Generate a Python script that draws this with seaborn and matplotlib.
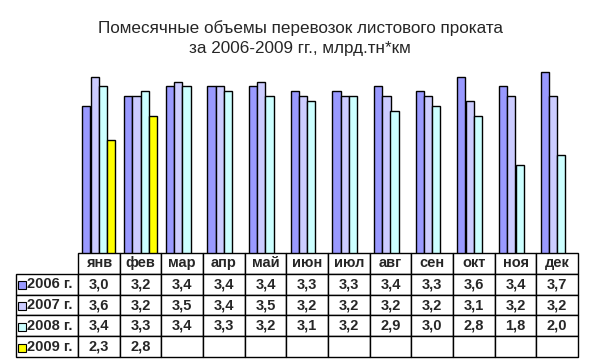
import pandas as pd
import numpy as np
import matplotlib.pyplot as plt
import seaborn as sns
from matplotlib.patches import Rectangle

months = ['янв', 'фев', 'мар', 'апр', 'май', 'июн', 'июл', 'авг', 'сен', 'окт', 'ноя', 'дек']
years = ['2006 г.', '2007 г.', '2008 г.', '2009 г.']
v2006 = [3.0, 3.2, 3.4, 3.4, 3.4, 3.3, 3.3, 3.4, 3.3, 3.6, 3.4, 3.7]
v2007 = [3.6, 3.2, 3.5, 3.4, 3.5, 3.2, 3.2, 3.2, 3.2, 3.1, 3.2, 3.2]
v2008 = [3.4, 3.3, 3.4, 3.3, 3.2, 3.1, 3.2, 2.9, 3.0, 2.8, 1.8, 2.0]
v2009 = [2.3, 2.8] + [np.nan] * 10
colors = ['#9999FF', '#CCCCFF', '#CCFFFF', '#FFFF00']

# long-form table for seaborn
series = [v2006, v2007, v2008, v2009]
df = pd.DataFrame({
    'month': months * 4,
    'year': np.repeat(years, 12),
    'value': sum(series, []),
})

sns.set_style('white')
plt.rcParams['font.family'] = ['Liberation Sans', 'DejaVu Sans']

fig = plt.figure(figsize=(6, 3.64), dpi=100)
ax = fig.add_axes([78 / 600, 1 - 253 / 364, 500 / 600, 196 / 364])

sns.barplot(data=df, x='month', y='value', hue='year', order=months, hue_order=years,
            palette=colors, edgecolor='black', linewidth=1, width=0.8,
            saturation=1, legend=False, ax=ax)
ax.set_ylim(0, 4.0)
ax.set_xlim(-0.5, 11.5)
ax.set_xlabel('')
ax.set_ylabel('')
ax.set_xticks([])
ax.set_yticks([])
for s in ax.spines.values():
    s.set_visible(False)

# data table under the bars
def fmt(v):
    return '' if np.isnan(v) else f'{v:.1f}'.replace('.', ',')

cell_text = [[y] + [fmt(v) for v in vals] for y, vals in zip(years, series)]
first_w = 62
col_w = 500 / 12
total_w = first_w + 12 * col_w
tbl = ax.table(cellText=cell_text, colLabels=[''] + months,
               colWidths=[first_w / total_w] + [col_w / total_w] * 12,
               bbox=[-first_w / 500, -104 / 196, total_w / 500, 104 / 196],
               cellLoc='center')
tbl.auto_set_font_size(False)
for (r, c), cell in tbl.get_celld().items():
    cell.set_linewidth(1)
    cell.get_text().set_fontsize(10.5)
    cell.get_text().set_fontweight('bold')
    if r == 0 and c == 0:
        cell.set_visible(False)
    if c == 0 and r > 0:
        cell._loc = 'left'
        cell.PAD = 0.17
        cell.get_text().set_ha('left')

# legend keys in the row labels
for i, col in enumerate(colors):
    yc = 1 - (284.5 + 21 * i) / 364
    fig.patches.append(Rectangle((18 / 600, yc - 4 / 364), 7.5 / 600, 7.5 / 364,
                                 transform=fig.transFigure, facecolor=col,
                                 edgecolor='black', linewidth=0.8))

fig.suptitle('Помесячные объемы перевозок листового проката\nза 2006-2009 гг., млрд.тн*км',
             y=1 - 20 / 364, va='top', fontsize=12.3, linespacing=1.45)

fig.savefig('out.png', dpi=100, facecolor='white')
